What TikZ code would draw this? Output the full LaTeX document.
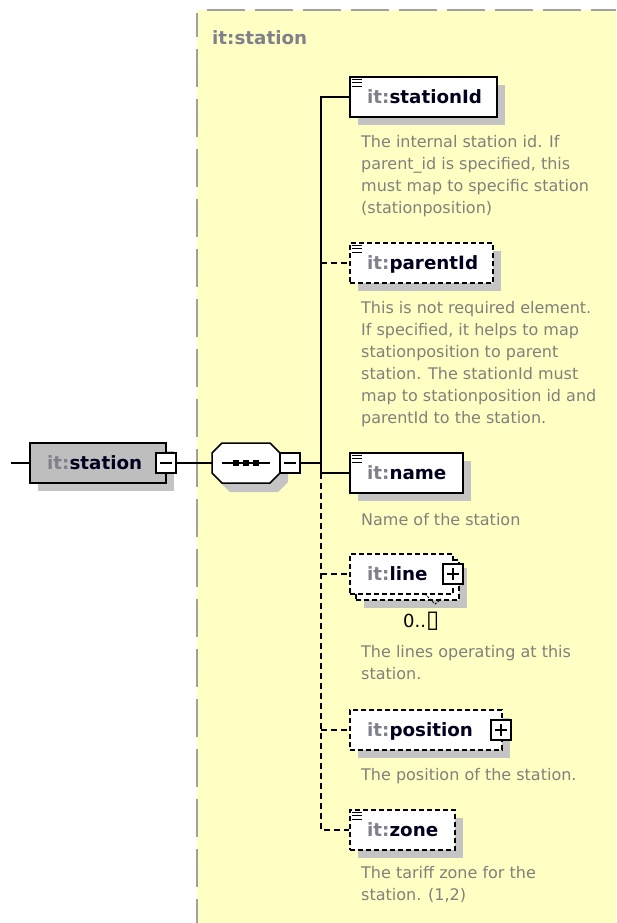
\documentclass[tikz,border=0pt]{standalone}
\usepackage{fontspec}
\setmainfont{DejaVu Sans}
\usetikzlibrary{calc}
\definecolor{panel}{RGB}{255,255,196}
\definecolor{pborder}{RGB}{160,160,160}
\definecolor{shadowgray}{RGB}{196,196,196}
\definecolor{mainfill}{RGB}{190,190,190}
\definecolor{prefix}{RGB}{128,128,140}
\definecolor{desc}{RGB}{128,128,124}
\definecolor{lbl}{RGB}{0,0,30}
\newcommand\pfx[1]{\textcolor{prefix}{#1}}
\begin{document}
\begin{tikzpicture}[x=1pt,y=-1pt,
  box/.style={draw=black,line width=1.5pt,fill=white,inner sep=0pt,minimum width=#1},
  box/.default=100,
  optbox/.style={box=#1,dash pattern=on 5pt off 3pt},
  optbox/.default=100,
  shadowbox/.style={fill=shadowgray,draw=none,inner sep=0pt,minimum width=#1,minimum height=40pt},
  pmbox/.style={draw=black,line width=1.3pt,fill=white,inner sep=0pt,minimum width=20pt,minimum height=20pt},
  conn/.style={draw=black,line width=1.4pt},
  optconn/.style={conn,dash pattern=on 6pt off 4pt},
  lab/.style={inner sep=0pt,anchor=base west,text=lbl,font=\fontsize{18.3}{20}\selectfont\bfseries},
  desctext/.style={inner sep=0pt,anchor=north west,align=left,text=desc,font=\fontsize{16}{22}\selectfont},
  icon/.style={line width=1.3pt,draw=black}
]
\useasboundingbox (0,0) rectangle (616,923);
% panel
\fill[panel] (197,10) rectangle (616,923);
\draw[pborder,line width=2pt,dash pattern=on 38pt off 10pt] (207,10) -- (616,10);
\draw[pborder,line width=2pt,dash pattern=on 38pt off 12pt,dash phase=14pt] (197,13) -- (197,923);
\node[inner sep=0pt,anchor=base west,text=prefix,font=\fontsize{18.3}{20}\selectfont\bfseries] (hdr) at (212,45) {it:station};

% shadows
\node[shadowbox=136] at (106,471) {};
\node[shadowbox=147] at (431.5,105) {};
\node[shadowbox=143] at (429.5,271) {};
\node[shadowbox=113] at (414.5,481) {};
\node[shadowbox=103] at (415.5,588) {};
\node[shadowbox=152] at (434,738) {};
\node[shadowbox=105] at (410.5,838) {};
\fill[fill=shadowgray] (230,452) -- (278,452) -- (288,462) -- (288,482) -- (278,492) -- (230,492) -- (220,482) -- (220,462) -- cycle;

% main element
\node[box=136,minimum height=40pt,fill=mainfill] (main) at (98,463) {};
\node[lab] (mainl) at (47,469.5) {\pfx{it:}station};
\node[pmbox] (mminus) at (166,463) {};
\draw[line width=1.2pt] ($(mminus.center)+(-6,0)$) -- ($(mminus.center)+(6,0)$);
\coordinate (lstart) at (11,463);
\draw[conn] (lstart) -- (main.west);

% sequence compositor
\node[inner sep=0pt,minimum width=68pt,minimum height=40pt] (seq) at (246,463) {};
\draw[line width=1.5pt,fill=white] (222,443) -- (270,443) -- (280,453) -- (280,473) -- (270,483) -- (222,483) -- (212,473) -- (212,453) -- cycle;
\draw[line width=1.3pt] (222,463) -- (270,463);
\foreach \xx in {236,246,256} \fill (\xx-2.8,460.2) rectangle (\xx+2.8,465.8);
\draw[conn] (mminus.east) -- (seq.west);
\node[pmbox] (sminus) at (290,463) {};
\draw[line width=1.2pt] ($(sminus.center)+(-6,0)$) -- ($(sminus.center)+(6,0)$);

% children
\node[box=147,minimum height=40pt] (sid) at (423.5,97) {};
\node[optbox=143,minimum height=40pt] (pid) at (421.5,263) {};
\node[box=113,minimum height=40pt] (nam) at (406.5,473) {};
\node[optbox=103,minimum height=40pt] (linb) at (407.5,580) {};
\node[optbox=103,minimum height=40pt] (lin) at (401.5,574) {};
\node[optbox=152,minimum height=40pt] (pos) at (426,730) {};
\node[optbox=105,minimum height=40pt] (zon) at (402.5,830) {};

% simple-content icons
\foreach \n in {sid,pid,nam,zon}{
  \foreach \dy in {3,6.5,10}{
    \draw[icon] ($(\n.north west)+(3,\dy)$) -- ++(10,0);
  }
}

% labels
\node[lab] (sidl) at (367,103.5) {\pfx{it:}stationId};
\node[lab] (pidl) at (367,269.5) {\pfx{it:}parentId};
\node[lab] (naml) at (367,479.5) {\pfx{it:}name};
\node[lab] (linl) at (367,580.5) {\pfx{it:}line};
\node[lab] (posl) at (367,736.5) {\pfx{it:}position};
\node[lab] (zonl) at (367,836.5) {\pfx{it:}zone};

% plus boxes
\node[pmbox] (lplus) at (453,574) {};
\draw[line width=1.2pt] ($(lplus.center)+(-6,0)$) -- ($(lplus.center)+(6,0)$) ($(lplus.center)+(0,-6)$) -- ($(lplus.center)+(0,6)$);
\node[pmbox] (pplus) at (501,730) {};
\draw[line width=1.2pt] ($(pplus.center)+(-6,0)$) -- ($(pplus.center)+(6,0)$) ($(pplus.center)+(0,-6)$) -- ($(pplus.center)+(0,6)$);

% multiplicity
\node[inner sep=0pt,anchor=base west,text=black,font=\fontsize{18}{20}\selectfont] (mult) at (403,627) {0..{\fontsize{24}{24}\selectfont ▯}};
\coordinate (mA) at (425,594);
\coordinate (mB) at (435,604);
\coordinate (mC) at (441,599);
\draw[line width=1pt,dash pattern=on 2pt off 1.5pt] (mA) -- (mB) -- (mC);

% trunk
\coordinate (tk) at (321,0);
\draw[conn] (sid.west) -- (sid.west -| tk) -- (nam.west -| tk) -- (nam.west);
\draw[conn] (sminus.east) -- (sminus.east -| tk);
\draw[optconn] (nam.west -| tk) -- (zon.west -| tk) -- (zon.west);
\draw[optconn] (pid.west -| tk) -- (pid.west);
\draw[optconn] (lin.west -| tk) -- (lin.west);
\draw[optconn] (pos.west -| tk) -- (pos.west);

% descriptions
\node[desctext] (sidd) at (361,131.6) {\strut The internal station id. If\\parent\_id is specified, this\\must map to specific station\\(stationposition)};
\node[desctext] (pidd) at (361,297.6) {\strut This is not required element.\\If specified, it helps to map\\stationposition to parent\\station. The stationId must\\map to stationposition id and\\parentId to the station.};
\node[desctext] (namd) at (361,509.6) {\strut Name of the station};
\node[desctext] (lind) at (361,641.6) {\strut The lines operating at this\\station.};
\node[desctext] (posd) at (361,764.6) {\strut The position of the station.};
\node[desctext] (zond) at (361,862.6) {\strut The tariff zone for the\\station. (1,2)};
\end{tikzpicture}
\end{document}
